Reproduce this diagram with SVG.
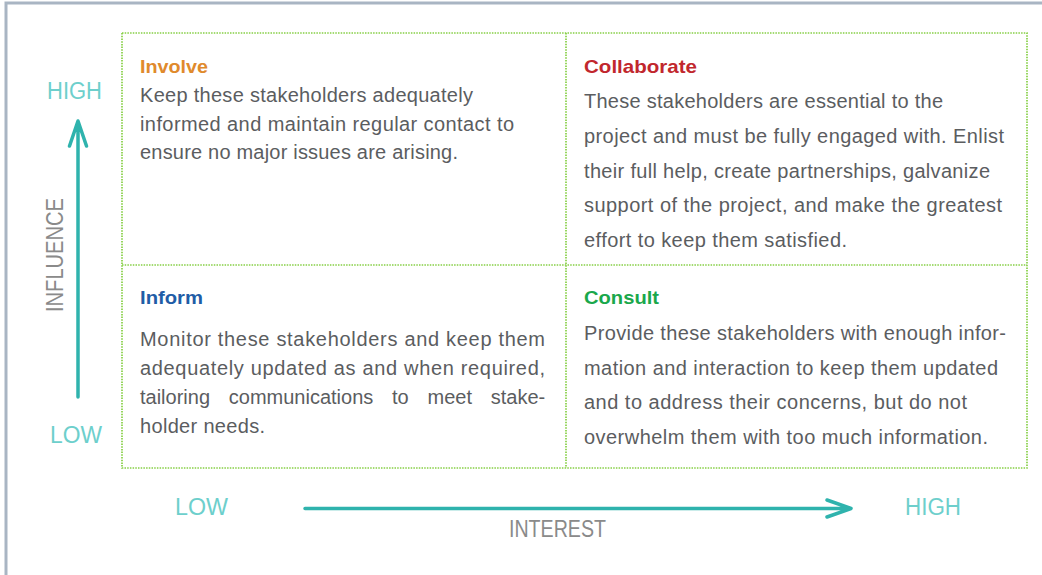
<svg xmlns="http://www.w3.org/2000/svg" width="1042" height="575" viewBox="0 0 1042 575">
<style>
.frame{fill:none;stroke:#a9b5c3;stroke-width:3}
.grid{fill:none;stroke:#86cf45;stroke-width:1.7;stroke-dasharray:1.5 1.2}
.h{font-family:"Liberation Sans",Arial,sans-serif;font-weight:bold;font-size:19px}
.b{font-family:"Liberation Sans",Arial,sans-serif;font-size:20px;fill:#5b5d5f}
.ax{font-family:"Liberation Sans",Arial,sans-serif;font-size:23px;fill:#6dcfcc}
.axt{font-family:"Liberation Sans",Arial,sans-serif;font-size:24px;fill:#8a8a8a}
.arrow{fill:none;stroke:#2fb3ad;stroke-width:3.5;stroke-linecap:round;stroke-linejoin:round}
</style>
<rect x="0" y="0" width="1042" height="575" fill="#ffffff"/>
<path class="frame" d="M6,576 V3 H1043"/>
<g id="grid">
<rect class="grid" x="122" y="33" width="905" height="435"/>
<line class="grid" x1="566" y1="33" x2="566" y2="468"/>
<line class="grid" x1="122" y1="265" x2="1027" y2="265"/>
</g>
<g id="involve">
<text class="h" x="140" y="73" fill="#e08a2c" textLength="68" lengthAdjust="spacingAndGlyphs">Involve</text>
<text class="b" x="140" y="102" textLength="333" lengthAdjust="spacing">Keep these stakeholders adequately</text>
<text class="b" x="140" y="131" textLength="374" lengthAdjust="spacing">informed and maintain regular contact to</text>
<text class="b" x="140" y="159" textLength="318" lengthAdjust="spacing">ensure no major issues are arising.</text>
</g>
<g id="collaborate">
<text class="h" x="584" y="73" fill="#c1272d" textLength="113" lengthAdjust="spacingAndGlyphs">Collaborate</text>
<text class="b" x="584" y="108" textLength="359" lengthAdjust="spacing">These stakeholders are essential to the</text>
<text class="b" x="584" y="143" textLength="420" lengthAdjust="spacing">project and must be fully engaged with. Enlist</text>
<text class="b" x="584" y="178" textLength="406" lengthAdjust="spacing">their full help, create partnerships, galvanize</text>
<text class="b" x="584" y="212" textLength="418" lengthAdjust="spacing">support of the project, and make the greatest</text>
<text class="b" x="584" y="247" textLength="263" lengthAdjust="spacing">effort to keep them satisfied.</text>
</g>
<g id="inform">
<text class="h" x="140" y="304" fill="#1f5da6" textLength="63" lengthAdjust="spacingAndGlyphs">Inform</text>
<text class="b" x="140" y="346" textLength="405" lengthAdjust="spacing">Monitor these stakeholders and keep them</text>
<text class="b" x="140" y="375" textLength="405" lengthAdjust="spacing">adequately updated as and when required,</text>
<text class="b" x="140" y="404" word-spacing="13.2">tailoring communications to meet stake-</text>
<text class="b" x="140" y="433" textLength="125" lengthAdjust="spacing">holder needs.</text>
</g>
<g id="consult">
<text class="h" x="584" y="304" fill="#1aa84b" textLength="75" lengthAdjust="spacingAndGlyphs">Consult</text>
<text class="b" x="584" y="340" textLength="422" lengthAdjust="spacing">Provide these stakeholders with enough infor-</text>
<text class="b" x="584" y="375" textLength="414" lengthAdjust="spacing">mation and interaction to keep them updated</text>
<text class="b" x="584" y="409" textLength="383" lengthAdjust="spacing">and to address their concerns, but do not</text>
<text class="b" x="584" y="444" textLength="404" lengthAdjust="spacing">overwhelm them with too much information.</text>
</g>
<g id="axis-influence">
<text class="ax" x="47" y="99" textLength="55" lengthAdjust="spacingAndGlyphs">HIGH</text>
<text class="ax" x="50" y="443" textLength="52" lengthAdjust="spacingAndGlyphs">LOW</text>
<text class="axt" transform="translate(63,255) rotate(-90)" x="0" y="0" text-anchor="middle" textLength="114" lengthAdjust="spacingAndGlyphs">INFLUENCE</text>
</g>
<g id="axis-interest">
<text class="ax" x="175" y="515" textLength="53" lengthAdjust="spacingAndGlyphs">LOW</text>
<text class="ax" x="905" y="515" textLength="56" lengthAdjust="spacingAndGlyphs">HIGH</text>
<text class="axt" x="509" y="537" textLength="97" lengthAdjust="spacingAndGlyphs">INTEREST</text>
</g>
<g id="connectors">
<path class="arrow" d="M78,397 V121 M69.5,146 L78,121 L86.5,146"/>
<path class="arrow" d="M305,508.5 H851 M827,500 L851,508.5 L827,517"/>
</g>
</svg>
